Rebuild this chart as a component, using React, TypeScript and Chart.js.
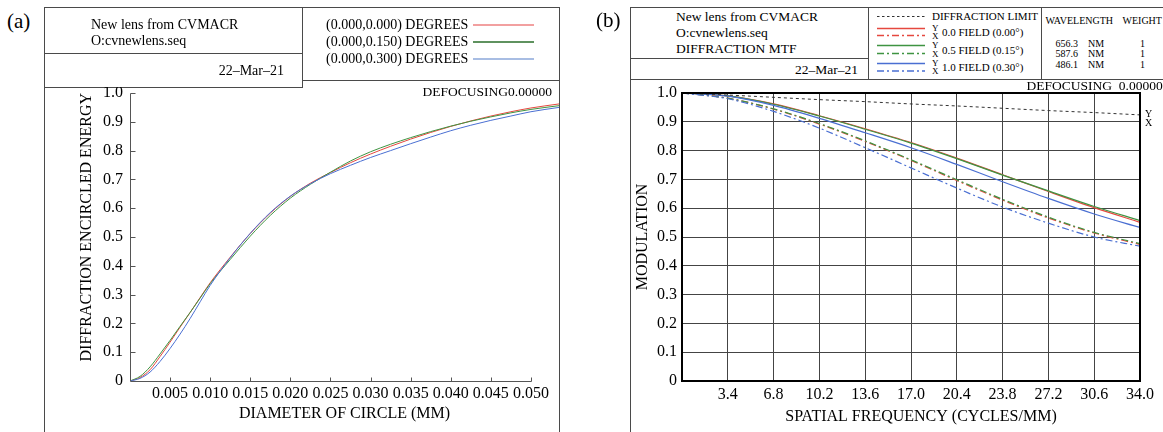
import React, { useEffect, useRef } from "react";
import { Chart, registerables } from "chart.js";

Chart.register(...registerables);

const W = 1163;
const H = 432;
const SERIF = '"Liberation Serif", "Times New Roman", serif';

// ---------- Panel (a): diffraction encircled energy ----------
const eeDiameters = [0, 0.00125, 0.0025, 0.00375, 0.005, 0.00625, 0.0075, 0.00875, 0.01, 0.0125, 0.015, 0.0175, 0.02, 0.0225, 0.025, 0.0275, 0.03, 0.0325, 0.035, 0.0375, 0.04, 0.0425, 0.045, 0.0475, 0.05, 0.0535];
const eeField000 = [0, 0.012, 0.039, 0.085, 0.135, 0.187, 0.238, 0.29, 0.341, 0.43, 0.512, 0.583, 0.641, 0.687, 0.724, 0.758, 0.788, 0.815, 0.84, 0.863, 0.884, 0.903, 0.92, 0.935, 0.948, 0.962];
const eeField015 = [0, 0.016, 0.049, 0.094, 0.141, 0.19, 0.238, 0.288, 0.338, 0.422, 0.503, 0.575, 0.635, 0.683, 0.725, 0.764, 0.796, 0.822, 0.845, 0.866, 0.885, 0.902, 0.917, 0.931, 0.943, 0.956];
const eeField030 = [0, 0.009, 0.031, 0.068, 0.113, 0.163, 0.217, 0.275, 0.332, 0.428, 0.513, 0.585, 0.642, 0.685, 0.72, 0.749, 0.776, 0.8, 0.824, 0.847, 0.869, 0.888, 0.905, 0.92, 0.935, 0.95];
const eeXTicks = [0.005, 0.01, 0.015, 0.02, 0.025, 0.03, 0.035, 0.04, 0.045, 0.05];
const eeYTicks = [0, 0.1, 0.2, 0.3, 0.4, 0.5, 0.6, 0.7, 0.8, 0.9, 1.0];
const eeLegend = ["(0.000,0.000) DEGREES", "(0.000,0.150) DEGREES", "(0.000,0.300) DEGREES"];

// ---------- Panel (b): diffraction MTF ----------
const mtfFreq = [0, 3.4, 6.8, 10.2, 13.6, 17.0, 20.4, 23.8, 27.2, 30.6, 34.0];
const mtfDiffLimit = [1.0, 0.993, 0.985, 0.977, 0.97, 0.962, 0.955, 0.947, 0.939, 0.932, 0.924];
const mtfField00Y = [1.0, 0.99, 0.962, 0.921, 0.876, 0.828, 0.774, 0.716, 0.658, 0.602, 0.551];
const mtfField00X = [1.0, 0.982, 0.944, 0.892, 0.832, 0.766, 0.696, 0.628, 0.566, 0.514, 0.474];
const mtfField05Y = [1.0, 0.99, 0.961, 0.92, 0.874, 0.826, 0.772, 0.715, 0.66, 0.606, 0.557];
const mtfField05X = [1.0, 0.982, 0.945, 0.894, 0.834, 0.768, 0.699, 0.631, 0.569, 0.516, 0.477];
const mtfField10Y = [1.0, 0.989, 0.957, 0.912, 0.862, 0.81, 0.752, 0.692, 0.634, 0.58, 0.533];
const mtfField10X = [1.0, 0.98, 0.936, 0.878, 0.81, 0.74, 0.67, 0.604, 0.548, 0.5, 0.468];
const mtfXTicks = [0, 3.4, 6.8, 10.2, 13.6, 17.0, 20.4, 23.8, 27.2, 30.6, 34.0];
const mtfYTicks = [0, 0.1, 0.2, 0.3, 0.4, 0.5, 0.6, 0.7, 0.8, 0.9, 1.0];
const mtfLegend = ["DIFFRACTION LIMIT", "0.0 FIELD (0.00°)", "0.5 FIELD (0.15°)", "1.0 FIELD (0.30°)"];
const wavelengths = ["656.3", "587.6", "486.1"];
const weights = ["1", "1", "1"];

const RED = "#e5483f";
const GREEN = "#3f9442";
const BLUE = "#4a6fd2";
const DASHDOT = [7, 3, 2, 3];

const pts = (xs: number[], ys: number[]) => xs.map((x, i) => ({ x, y: ys[i] }));
const yLabel = (v: number) => (v === 0 ? "0" : v.toFixed(1));

function Txt(props: { x: number; y: number; size: number; align?: string; children: any }) {
  const { x, y, size, align = "left", children } = props;
  const lh = Math.round(size * 1.2);
  const style: any = {
    position: "absolute",
    top: y - lh / 2,
    fontSize: size,
    lineHeight: lh + "px",
    whiteSpace: "pre",
    color: "#000",
    fontFamily: SERIF,
  };
  if (align === "right") style.right = W - x;
  else if (align === "center") {
    style.left = x;
    style.transform = "translateX(-50%)";
  } else style.left = x;
  return <div style={style}>{children}</div>;
}

const LC = "#4a4a4a";
const HL = (x1: number, x2: number, y: number, k: string) => (
  <div key={k} style={{ position: "absolute", left: x1, top: y, width: x2 - x1 + 1, height: 1, background: LC }} />
);
const VL = (x: number, y1: number, y2: number, k: string) => (
  <div key={k} style={{ position: "absolute", left: x, top: y1, width: 1, height: y2 - y1, background: LC }} />
);

const eePlugin = {
  id: "eeAxes",
  afterDatasetsDraw(chart: any) {
    const { ctx } = chart;
    const xs = chart.scales.x;
    const ys = chart.scales.y;
    const x0 = Math.round(xs.getPixelForValue(0)) + 0.5;
    const y0 = Math.round(ys.getPixelForValue(0)) + 0.5;
    const xEnd = Math.round(xs.getPixelForValue(eeXTicks[eeXTicks.length - 1])) + 0.5;
    const yEnd = Math.round(ys.getPixelForValue(eeYTicks[eeYTicks.length - 1])) + 0.5;
    ctx.save();
    ctx.strokeStyle = "#555";
    ctx.lineWidth = 1;
    ctx.beginPath();
    ctx.moveTo(x0, yEnd);
    ctx.lineTo(x0, y0);
    ctx.lineTo(xEnd, y0);
    for (const v of eeYTicks) {
      if (v === 0) continue;
      const py = Math.round(ys.getPixelForValue(v)) + 0.5;
      ctx.moveTo(x0, py);
      ctx.lineTo(x0 + 5, py);
    }
    for (const v of eeXTicks) {
      const px = Math.round(xs.getPixelForValue(v)) + 0.5;
      ctx.moveTo(px, y0);
      ctx.lineTo(px, y0 - 4);
    }
    ctx.stroke();
    ctx.restore();
  },
};

const mtfPlugin = {
  id: "mtfFrame",
  afterDatasetsDraw(chart: any) {
    const { ctx, chartArea } = chart;
    ctx.save();
    ctx.strokeStyle = "#000";
    ctx.lineWidth = 2;
    ctx.strokeRect(chartArea.left, chartArea.top, chartArea.right - chartArea.left, chartArea.bottom - chartArea.top);
    ctx.restore();
  },
};

const tickFont = { family: SERIF, size: 16 };
const titleFont = { family: SERIF, size: 16 };
const GRID = "#444";

export default function App() {
  const refA = useRef<HTMLCanvasElement>(null);
  const refB = useRef<HTMLCanvasElement>(null);

  useEffect(() => {
    const line = (data: any, color: string, width: number, dash: number[] = []) => ({
      data,
      borderColor: color,
      backgroundColor: color,
      borderWidth: width,
      borderDash: dash,
      pointRadius: 0,
      fill: false,
      cubicInterpolationMode: "monotone",
    });

    const chartA = new Chart(refA.current as HTMLCanvasElement, {
      type: "line",
      data: {
        datasets: [
          line(pts(eeDiameters, eeField030), BLUE, 1),
          line(pts(eeDiameters, eeField015), GREEN, 1),
          line(pts(eeDiameters, eeField000), RED, 1),
        ] as any,
      },
      options: {
        animation: false,
        responsive: false,
        layout: { padding: { left: 0, top: 6, right: 1, bottom: 0 } },
        plugins: { legend: { display: false }, tooltip: { enabled: false } },
        scales: {
          x: {
            type: "linear",
            min: 0,
            max: 0.0535,
            afterBuildTicks: (s: any) => {
              s.ticks = eeXTicks.map((v) => ({ value: v }));
            },
            ticks: { callback: (v: any) => Number(v).toFixed(3), font: tickFont, color: "#000", padding: 3, maxRotation: 0, autoSkip: false },
            grid: { display: false, drawTicks: false, drawOnChartArea: false },
            border: { display: false },
            title: { display: true, text: "DIAMETER OF CIRCLE (MM)", font: titleFont, color: "#000", padding: { top: 0, bottom: 9 } },
            afterFit: (s: any) => {
              s.height = 51;
              s.paddingLeft = 0;
              s.paddingRight = 0;
            },
          },
          y: {
            type: "linear",
            min: 0,
            max: 1,
            afterBuildTicks: (s: any) => {
              s.ticks = eeYTicks.map((v) => ({ value: v }));
            },
            ticks: { callback: (v: any) => yLabel(Number(v)), font: tickFont, color: "#000", padding: 7, autoSkip: false },
            grid: { display: false, drawTicks: false, drawOnChartArea: false },
            border: { display: false },
            title: { display: true, text: "DIFFRACTION ENCIRCLED ENERGY", align: "end", font: titleFont, color: "#000", padding: { top: 33, bottom: 0 } },
            afterFit: (s: any) => {
              s.width = 86;
              s.paddingTop = 0;
              s.paddingBottom = 0;
            },
          },
        },
      } as any,
      plugins: [eePlugin],
    });

    const chartB = new Chart(refB.current as HTMLCanvasElement, {
      type: "line",
      data: {
        datasets: [
          line(pts(mtfFreq, mtfDiffLimit), "#333", 1, [3, 3]),
          line(pts(mtfFreq, mtfField10X), BLUE, 1.2, DASHDOT),
          line(pts(mtfFreq, mtfField05X), GREEN, 1.2, DASHDOT),
          line(pts(mtfFreq, mtfField00X), RED, 1.2, DASHDOT),
          line(pts(mtfFreq, mtfField10Y), BLUE, 1.2),
          line(pts(mtfFreq, mtfField05Y), GREEN, 1.2),
          line(pts(mtfFreq, mtfField00Y), RED, 1.2),
        ] as any,
      },
      options: {
        animation: false,
        responsive: false,
        layout: { padding: { left: 0, top: 14, right: 23, bottom: 0 } },
        plugins: { legend: { display: false }, tooltip: { enabled: false } },
        scales: {
          x: {
            type: "linear",
            min: 0,
            max: 34,
            afterBuildTicks: (s: any) => {
              s.ticks = mtfXTicks.map((v) => ({ value: v }));
            },
            ticks: { callback: (v: any) => (Number(v) === 0 ? "" : Number(v).toFixed(1)), font: tickFont, color: "#000", padding: 4, maxRotation: 0, autoSkip: false },
            grid: { color: GRID, lineWidth: 1, drawTicks: false },
            border: { display: false },
            title: { display: true, text: "     SPATIAL FREQUENCY (CYCLES/MM)", font: titleFont, color: "#000", padding: { top: 0, bottom: 6 } },
            afterFit: (s: any) => {
              s.height = 51;
              s.paddingLeft = 0;
              s.paddingRight = 0;
            },
          },
          y: {
            type: "linear",
            min: 0,
            max: 1,
            afterBuildTicks: (s: any) => {
              s.ticks = mtfYTicks.map((v) => ({ value: v }));
            },
            ticks: { callback: (v: any) => yLabel(Number(v)), font: tickFont, color: "#000", padding: 5, autoSkip: false },
            grid: { color: GRID, lineWidth: 1, drawTicks: false },
            border: { display: false },
            title: { display: true, text: "MODULATION", font: titleFont, color: "#000", padding: { top: 3, bottom: 0 } },
            afterFit: (s: any) => {
              s.width = 52;
              s.paddingTop = 0;
              s.paddingBottom = 0;
            },
          },
        },
      } as any,
      plugins: [mtfPlugin],
    });

    return () => {
      chartA.destroy();
      chartB.destroy();
    };
  }, []);

  const eeColors = ["#f2a0a0", "#5f925f", "#a8bde3"];
  const eeRows = [24.5, 41.7, 58.5];
  const mtfRows = [
    { y: 32.5, ly: 28.5, lx: 35.5, color: RED },
    { y: 50, ly: 45.5, lx: 53.5, color: GREEN },
    { y: 67.5, ly: 63.5, lx: 71, color: BLUE },
  ];
  const wlRows = [43.5, 54, 65];

  return (
    <div style={{ position: "fixed", left: 0, top: 0, width: W, height: H, background: "#fff", overflow: "hidden", fontFamily: SERIF }}>
      {/* Panel (a) frame */}
      {VL(44, 7, H, "a1")}
      {HL(44, 559, 7, "a2")}
      {VL(302, 7, 87, "a3")}
      {HL(44, 302, 53, "a4")}
      {HL(44, 302, 87, "a5")}
      {HL(302, 559, 80, "a6")}
      {VL(559, 7, H, "a7")}

      {/* Panel (b) frame */}
      {VL(630, 7, H, "b1")}
      {HL(630, W, 7, "b2")}
      {VL(868, 7, 79, "b3")}
      {HL(630, 868, 58, "b4")}
      {HL(630, W, 79, "b5")}
      {VL(1041, 7, 79, "b6")}

      <svg width={W} height={H} style={{ position: "absolute", left: 0, top: 0 }}>
        <line x1={877} x2={925} y1={16.5} y2={16.5} stroke="#333" strokeWidth={1} strokeDasharray="2.5 2.5" />
        {mtfRows.map((r, i) => (
          <g key={"sv" + i}>
            <line x1={877} x2={925} y1={r.ly} y2={r.ly} stroke={r.color} strokeWidth={1.3} />
            <line x1={877} x2={925} y1={r.lx} y2={r.lx} stroke={r.color} strokeWidth={1.3} strokeDasharray="7 3 2 3" />
          </g>
        ))}
      </svg>

      <canvas ref={refA} width={516} height={345} style={{ position: "absolute", left: 44, top: 87, width: 516, height: 345 }} />
      <canvas ref={refB} width={533} height={353} style={{ position: "absolute", left: 630, top: 79, width: 533, height: 353 }} />

      {/* Panel (a) texts */}
      <Txt x={7} y={21} size={21}>(a)</Txt>
      <Txt x={91} y={24} size={14}>New lens from CVMACR</Txt>
      <Txt x={91} y={40} size={14}>O:cvnewlens.seq</Txt>
      <Txt x={284} y={70.5} size={14} align="right">22–Mar–21</Txt>
      {eeLegend.map((t, i) => (
        <React.Fragment key={"el" + i}>
          <Txt x={326} y={eeRows[i]} size={14}>{t}</Txt>
          <div style={{ position: "absolute", left: 473, top: eeRows[i] - 0.5, width: 61, height: 1.5, background: eeColors[i] }} />
        </React.Fragment>
      ))}
      <Txt x={552} y={92} size={13.5} align="right">DEFOCUSING0.00000</Txt>

      {/* Panel (b) texts */}
      <Txt x={596} y={20} size={21}>(b)</Txt>
      <Txt x={676} y={16.5} size={13.5}>New lens from CVMACR</Txt>
      <Txt x={676} y={33} size={13.5}>O:cvnewlens.seq</Txt>
      <Txt x={676} y={49} size={13.5}>DIFFRACTION MTF</Txt>
      <Txt x={858} y={69.5} size={13.5} align="right">22–Mar–21</Txt>

      <Txt x={932} y={16} size={11}>{mtfLegend[0]}</Txt>
      {mtfRows.map((r, i) => (
        <React.Fragment key={"ml" + i}>
          <Txt x={932} y={r.ly - 0.5} size={9}>Y</Txt>
          <Txt x={932} y={r.lx + 0.5} size={9}>X</Txt>
          <Txt x={942} y={r.y} size={11}>{mtfLegend[i + 1]}</Txt>
        </React.Fragment>
      ))}

      <Txt x={1045.5} y={20.5} size={10}>WAVELENGTH</Txt>
      <Txt x={1122.5} y={20.5} size={10}>WEIGHT</Txt>
      {wavelengths.map((w, i) => (
        <React.Fragment key={"wl" + i}>
          <Txt x={1055.5} y={wlRows[i]} size={10}>{w}</Txt>
          <Txt x={1088} y={wlRows[i]} size={10}>NM</Txt>
          <Txt x={1142.5} y={wlRows[i]} size={10} align="center">{weights[i]}</Txt>
        </React.Fragment>
      ))}
      <Txt x={1026.5} y={86} size={13.5}>DEFOCUSING  0.00000</Txt>
      <Txt x={1145} y={113.5} size={10}>Y</Txt>
      <Txt x={1145} y={123} size={10}>X</Txt>
    </div>
  );
}
